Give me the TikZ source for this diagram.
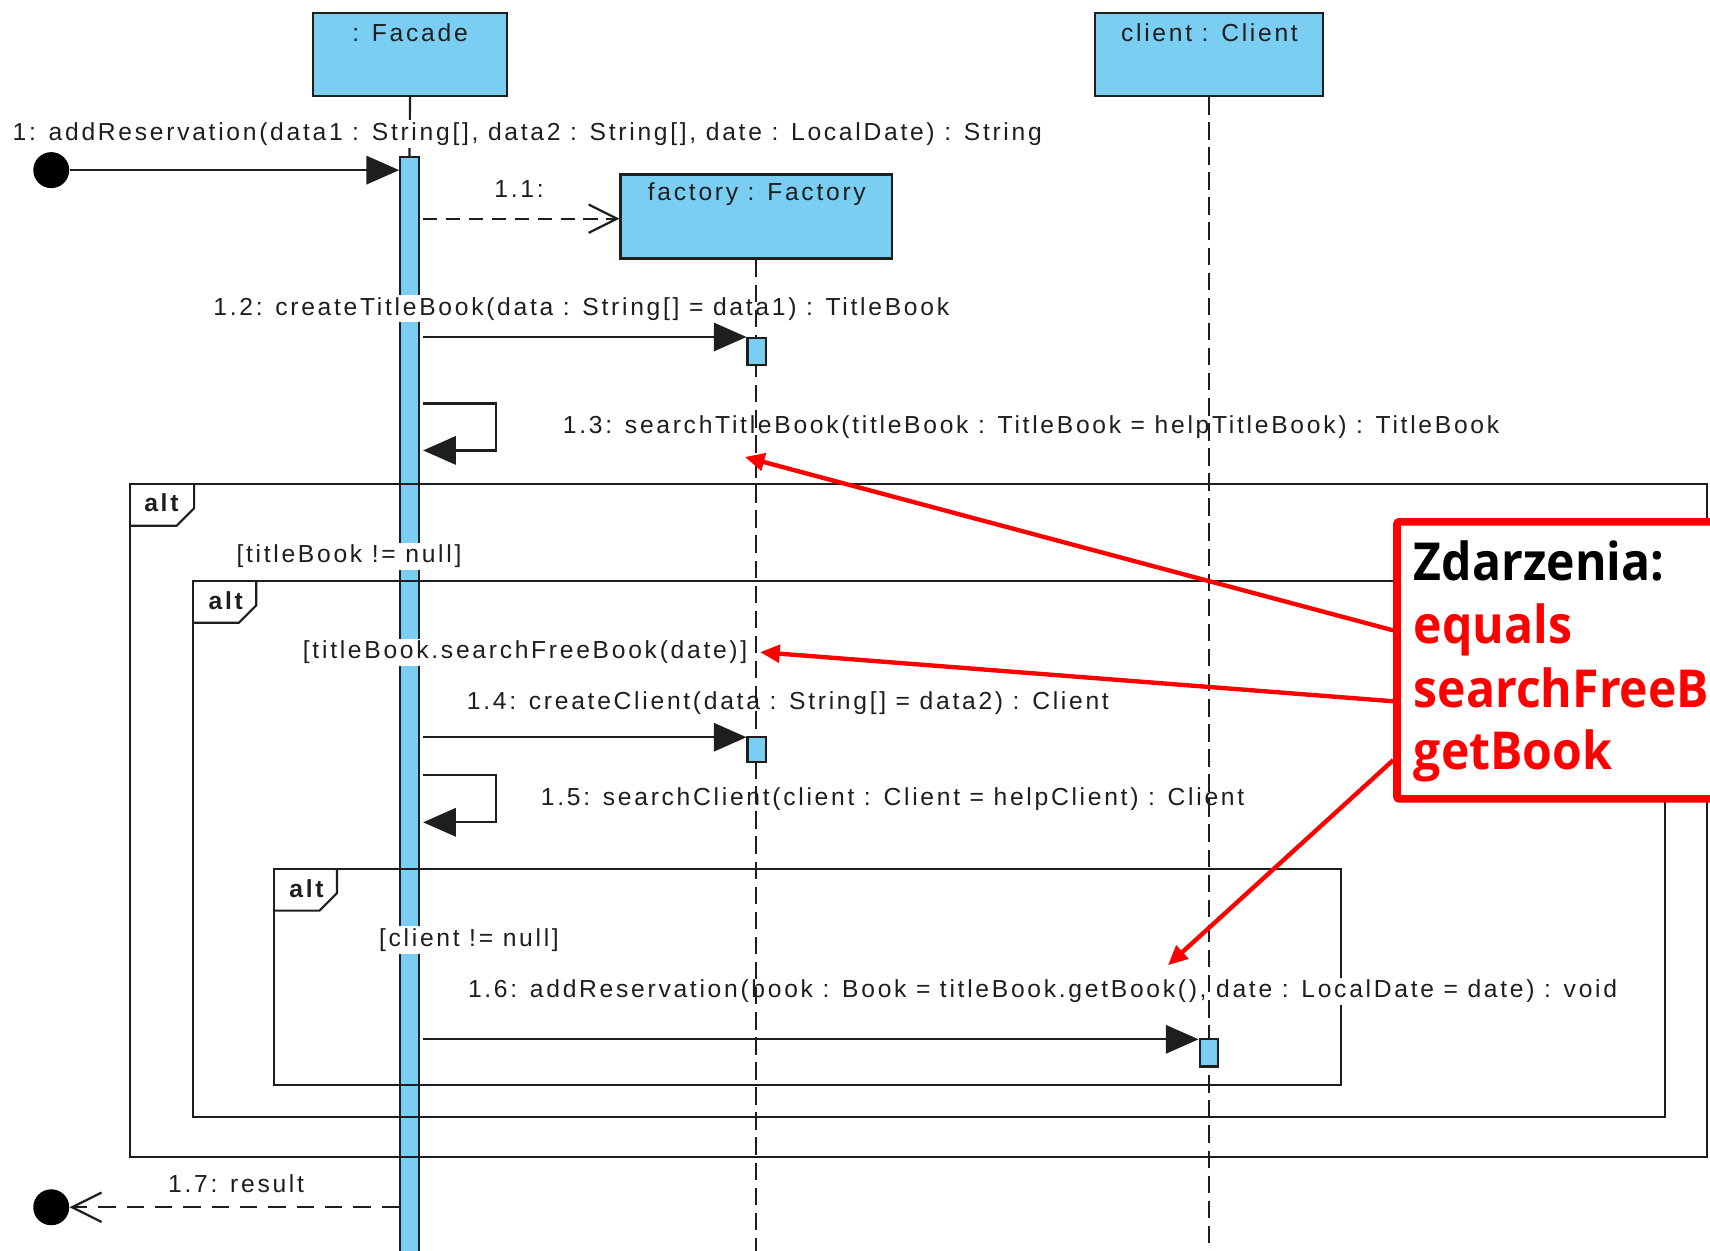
\documentclass[tikz,border=0pt]{standalone}
\usepackage{fontspec}
\setmainfont{Liberation Sans}[LetterSpace=11]
\newfontfamily\notefont{Open Sans}[FakeStretch=0.92]
\usetikzlibrary{arrows.meta,calc}
\definecolor{umlblue}{RGB}{122,206,242}
\definecolor{notered}{RGB}{255,0,0}
\definecolor{umlink}{RGB}{30,30,30}

\tikzset{
  txt/.style={font=\fontsize{11.3}{13}\selectfont, text=umlink, inner sep=1pt},
  msglabel/.style={txt, fill=white},
  headbox/.style={draw=umlink, line width=1pt, fill=umlblue, inner sep=0pt, anchor=north west},
  actbox/.style={draw=umlink, line width=1pt, fill=umlblue, inner sep=0pt, minimum width=8.5pt, anchor=north},
  lifeline/.style={draw=umlink, line width=0.9pt, dash pattern=on 8pt off 3.5pt},
  syncmsg/.style={draw=umlink, line width=1pt, -{Triangle[length=15pt,width=13pt]}},
  createmsg/.style={draw=umlink, line width=1pt, dash pattern=on 6.5pt off 4pt,
    -{Straight Barb[length=13pt,width=13pt,line width=1pt]}},
  replymsg/.style={draw=umlink, line width=1pt, dash pattern=on 8pt off 5pt,
    -{Straight Barb[length=13.5pt,width=13.5pt,line width=1pt]}},
  fragframe/.style={draw=umlink, line width=1pt},
  fragtag/.style={font=\bfseries\fontsize{11.3}{13}\selectfont, text=umlink, inner sep=0pt},
  enddot/.style={circle, fill=black, minimum size=16.5pt, inner sep=0pt},
  notebox/.style={draw=notered, line width=3.5pt, fill=white, rounded corners=1pt,
    inner sep=0pt, anchor=north west},
  notetext/.style={font=\notefont\bfseries\fontsize{24}{29}\selectfont, inner sep=0pt, anchor=base west},
  notearrow/.style={draw=notered, line width=2pt, -{Triangle[length=9pt,width=8pt]}},
}

\begin{document}
\begin{tikzpicture}[x=0.5pt,y=-0.5pt]
\useasboundingbox (0,0) rectangle (1568,1147);
\clip (0,0) rectangle (1568,1147);

% lifeline heads
\node[headbox, minimum width=89pt, minimum height=38pt] (facade) at (286,11) {};
\node[headbox, minimum width=124.5pt, minimum height=38.5pt] (factory) at (568,159) {};
\node[headbox, minimum width=104.5pt, minimum height=38pt] (client) at (1003,11) {};

% activation of the facade
\node[actbox, minimum height=510pt] (fa) at (375.5,143) {};
\draw[umlink, line width=1pt] (facade.south) -- (fa.north);

% combined fragments
\draw[fragframe] (119,444) rectangle (1565,1061);
\draw[fragframe] (119,482) -- (162,482) -- (178,466) -- (178,444);
\node[fragtag] (alt1) at (148,461) {alt};
\draw[fragframe] (177,533) rectangle (1527,1024);
\draw[fragframe] (177,571) -- (219,571) -- (235,555) -- (235,533);
\node[fragtag] (alt2) at (207,551) {alt};
\draw[fragframe] (251,797) rectangle (1230,995);
\draw[fragframe] (251,835) -- (293,835) -- (309,819) -- (309,797);
\node[fragtag] (alt3) at (281,815) {alt};

% message labels
\node[msglabel] (l1) at (483.5,123) {1: addReservation(data1 : String[], data2 : String[], date : LocalDate) : String};
\node[msglabel] (l11) at (476,173) {1.1:};
\node[msglabel] (l12) at (533,283) {1.2: createTitleBook(data : String[] = data1) : TitleBook};
\node[msglabel] (l13) at (945.5,392) {1.3: searchTitleBook(titleBook : TitleBook = helpTitleBook) : TitleBook};
\node[msglabel] (l14) at (722.5,645) {1.4: createClient(data : String[] = data2) : Client};
\node[msglabel] (l15) at (818.5,733) {1.5: searchClient(client : Client = helpClient) : Client};
\node[msglabel] (l16) at (956,909) {1.6: addReservation(book : Book = titleBook.getBook(), date : LocalDate = date) : void};
\node[msglabel] (l17) at (216.5,1085) {1.7: result};

% dashed lifelines
\draw[lifeline] (factory.south) -- (factory.south |- 0,1160);
\draw[lifeline] (client.south) -- (client.south |- 0,1160);

% head captions
\node[txt] (tfacade) at (376,30) {: Facade};
\node[txt] (tfactory) at (694,178) {factory : Factory};
\node[txt] (tclient) at (1109,30) {client : Client};

% short activations
\node[actbox, minimum height=12.5pt] (f1) at (694,309) {};
\node[actbox, minimum height=11.5pt] (f2) at (694,675) {};
\node[actbox, minimum height=12.5pt] (c1) at (1108.5,952) {};

% guards
\node[msglabel] (g1) at (320,510) {[titleBook != null]};
\node[msglabel] (g2) at (481.5,598) {[titleBook.searchFreeBook(date)]};
\node[msglabel] (g3) at (430,862) {[client != null]};

% found and lost message ends
\node[enddot] (start) at (47,156) {};
\node[enddot] (finish) at (47,1107) {};

% messages
\draw[syncmsg] (start) -- (start -| fa.west);
\draw[createmsg] ($(factory.west -| fa.east)+(3,2)$) -- ($(factory.west)+(0,2)$);
\draw[syncmsg] ($(f1.north west -| fa.east)+(3,0)$) -- (f1.north west);
\coordinate (s13a) at (388,370);
\coordinate (s13b) at (455,370);
\coordinate (s13c) at (455,413);
\coordinate (s13d) at (388,413);
\draw[syncmsg] (s13a) -- (s13b) -- (s13c) -- (s13d);
\draw[syncmsg] ($(f2.north west -| fa.east)+(3,1)$) -- ($(f2.north west)+(0,1)$);
\coordinate (s15a) at (388,711);
\coordinate (s15b) at (455,711);
\coordinate (s15c) at (455,754);
\coordinate (s15d) at (388,754);
\draw[syncmsg] (s15a) -- (s15b) -- (s15c) -- (s15d);
\draw[syncmsg] ($(c1.north west -| fa.east)+(3,1)$) -- ($(c1.north west)+(0,1)$);
\draw[replymsg] (finish -| fa.west) -- (finish);

% annotation
\node[notebox, minimum width=175pt, minimum height=127pt] (note) at (1277.5,475) {};
\node[notetext] (ntitle) at (1296,532) {Zdarzenia:};
\node[notetext, text=notered] (nev1) at (1296,590) {equals};
\node[notetext, text=notered] (nev2) at (1296,649) {searchFreeBook};
\node[notetext, text=notered] (nev3) at (1296,706) {getBook};
\coordinate (t13) at (683,419);
\coordinate (tg2) at (697,598);
\coordinate (t16) at (1071,885);
\draw[notearrow] ($(note.north west)+(0,103)$) -- (t13);
\draw[notearrow] ($(note.north west)+(0,168)$) -- (tg2);
\draw[notearrow] ($(note.north west)+(0,222)$) -- (t16);
\end{tikzpicture}
\end{document}
